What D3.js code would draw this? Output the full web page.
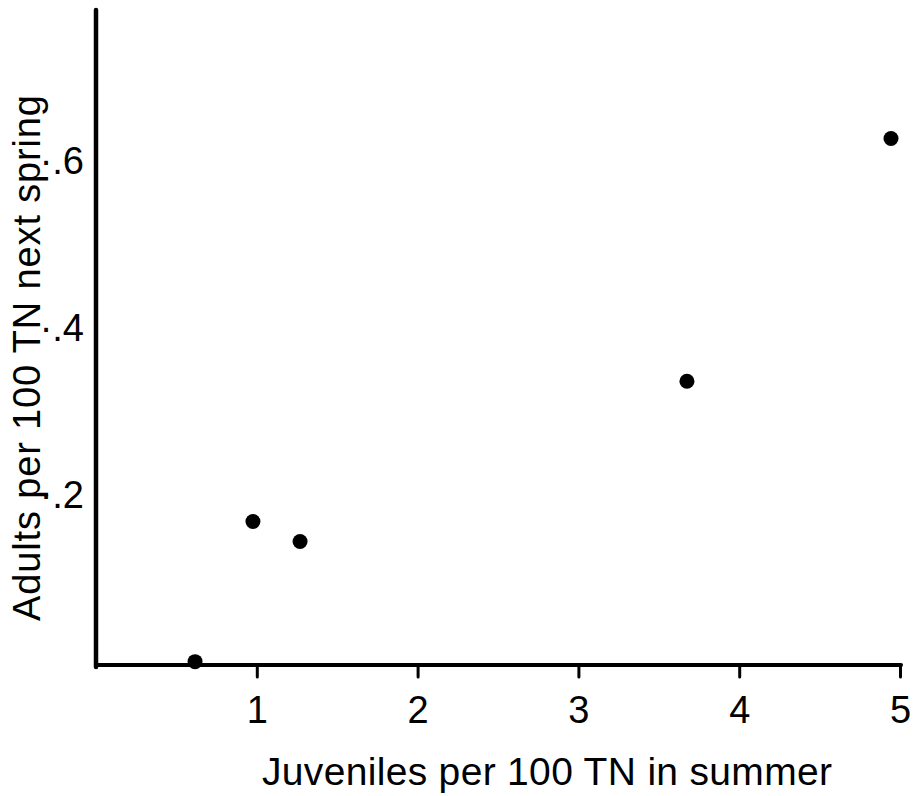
<!DOCTYPE html>
<html>
<head>
<meta charset="utf-8">
<script src="https://cdn.jsdelivr.net/npm/d3@7/dist/d3.min.js"></script>
<style>
  html, body { margin: 0; padding: 0; background: #fff; }
  svg { display: block; }
  text { font-family: "Liberation Sans", Arial, Helvetica, sans-serif; fill: #000; }
</style>
</head>
<body>
<svg id="chart" width="913" height="796"></svg>
<script>
// Juveniles in summer vs. adults the following spring (per 100 trap-nights)
const juveniles = [0.616, 0.976, 1.269, 3.675, 4.944];
const adults    = [0.004, 0.172, 0.148, 0.340, 0.631];

const xTickValues = [1, 2, 3, 4, 5];
const yTickValues = [0.2, 0.4, 0.6];

const xTitle = "Juveniles  per  100  TN  in  summer";
const yTitle = "Adults  per  100  TN  next  spring";

const svg = d3.select("#chart");

const x = d3.scaleLinear().domain([0, 5]).range([96, 900]);
const y = d3.scaleLinear().domain([0, 0.785]).range([665, 10]);

// Axis lines
svg.append("line")
  .attr("x1", x(0)).attr("x2", x(0))
  .attr("y1", y(0.785)).attr("y2", y(0) + 2)
  .attr("stroke", "#000").attr("stroke-width", 4.5).attr("stroke-linecap", "round");
svg.append("line")
  .attr("x1", x(0)).attr("x2", x(5) + 1)
  .attr("y1", y(0)).attr("y2", y(0))
  .attr("stroke", "#000").attr("stroke-width", 4).attr("stroke-linecap", "round");

// X axis: short downward ticks, numbers below
const xAxis = svg.append("g")
  .attr("transform", `translate(0,${y(0)})`)
  .call(d3.axisBottom(x).tickValues(xTickValues).tickSize(12).tickPadding(19)
    .tickFormat(d3.format("d")));
xAxis.attr("font-size", 38).attr("font-family", "Liberation Sans, Arial, sans-serif");
xAxis.select(".domain").remove();
xAxis.selectAll(".tick line")
  .attr("stroke", "#000").attr("stroke-width", 3).attr("stroke-linecap", "round");
xAxis.selectAll(".tick text").attr("fill", "#000");

// Y axis: labels only, written with a raised decimal point
const fmt = d3.format(".1f");
const yAxis = svg.append("g")
  .attr("transform", `translate(${x(0)},0)`)
  .call(d3.axisLeft(y).tickValues(yTickValues).tickSize(0).tickPadding(12)
    .tickFormat(d => "\u00b7" + fmt(d).slice(1)));
yAxis.attr("font-size", 38).attr("font-family", "Liberation Sans, Arial, sans-serif");
yAxis.select(".domain").remove();
yAxis.selectAll(".tick text").attr("fill", "#000").attr("dy", "0.25em");

// Data points
svg.append("g")
  .selectAll("circle")
  .data(juveniles.map((j, i) => ({ j, a: adults[i] })))
  .join("circle")
  .attr("cx", d => x(d.j))
  .attr("cy", d => y(d.a))
  .attr("r", 7.5)
  .attr("fill", "#000");

// Axis titles
svg.append("text")
  .attr("x", 547).attr("y", 785)
  .attr("text-anchor", "middle")
  .attr("font-size", 39)
  .attr("textLength", 570).attr("lengthAdjust", "spacing")
  .text(xTitle);

svg.append("text")
  .attr("transform", "translate(40,358) rotate(-90)")
  .attr("text-anchor", "middle")
  .attr("font-size", 38)
  .attr("textLength", 526).attr("lengthAdjust", "spacing")
  .text(yTitle);
</script>
</body>
</html>
